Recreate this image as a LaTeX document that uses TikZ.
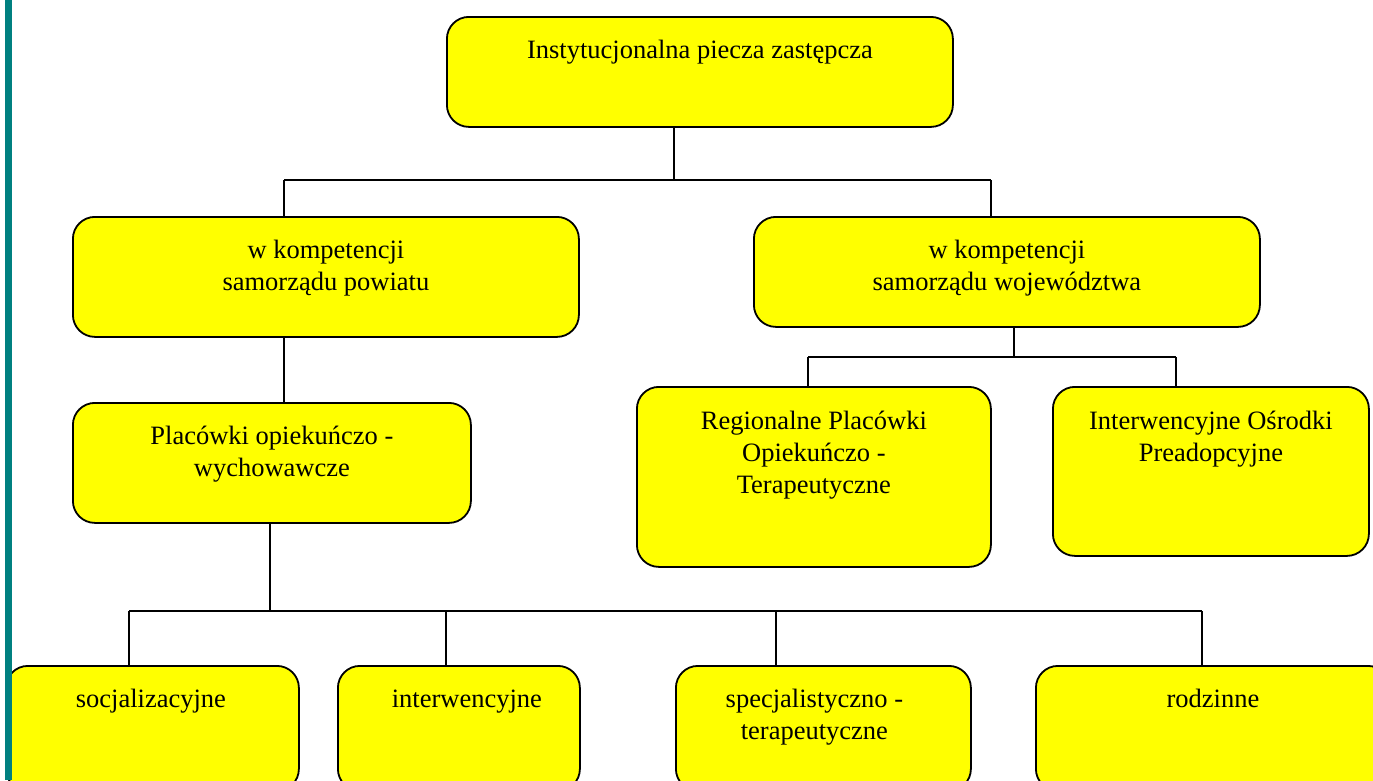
\documentclass[tikz,border=0pt]{standalone}
\usepackage{fontspec}
\setmainfont{Liberation Serif}
\usetikzlibrary{positioning}
\definecolor{zolty}{RGB}{255,255,0}
\definecolor{morski}{RGB}{0,128,128}
\tikzset{
  kafel/.style={draw=black, line width=1.8pt, fill=zolty, rounded corners=22pt, anchor=north west, inner sep=0pt},
  napis/.style={inner sep=0pt, align=center, font=\fontsize{26.5}{32}\selectfont, execute at begin node=\strut},
  linia/.style={line width=1.4pt}
}
\begin{document}
\begin{tikzpicture}[x=1pt,y=-1pt]
\useasboundingbox (0,0) rectangle (1373,780);
\clip (0,0) rectangle (1373,780);
% boxes
\node[kafel, minimum width=506pt, minimum height=110pt] (glowna) at (446,16) {};
\node[kafel, minimum width=506pt, minimum height=120pt] (powiat) at (72,216) {};
\node[kafel, minimum width=506pt, minimum height=110pt] (woj) at (753,216) {};
\node[kafel, minimum width=398pt, minimum height=120pt] (plac) at (72,402) {};
\node[kafel, minimum width=354pt, minimum height=180pt] (region) at (636,386) {};
\node[kafel, minimum width=316pt, minimum height=169pt] (osrodki) at (1052,386) {};
\node[kafel, minimum width=293pt, minimum height=125pt] (soc) at (5,665) {};
\node[kafel, minimum width=242pt, minimum height=125pt] (inter) at (337,665) {};
\node[kafel, minimum width=295pt, minimum height=125pt] (spec) at (675,665) {};
\node[kafel, minimum width=354pt, minimum height=125pt] (rodz) at (1035,665) {};
% texts
\node[napis, below=20pt of glowna.north] (glowna-t) {Instytucjonalna piecza zastępcza};
\node[napis, below=24pt of powiat.north] (powiat-t) {w kompetencji\\samorządu powiatu};
\node[napis, below=24pt of woj.north] (woj-t) {w kompetencji\\samorządu województwa};
\node[napis, below=24pt of plac.north] (plac-t) {Placówki opiekuńczo -\\wychowawcze};
\node[napis, below=25pt of region.north] (region-t) {Regionalne Placówki\\Opiekuńczo -\\Terapeutyczne};
\node[napis, below=25pt of osrodki.north] (osrodki-t) {Interwencyjne Ośrodki\\Preadopcyjne};
\node[napis, below=20pt of soc.north, xshift=-1.5pt] (soc-t) {socjalizacyjne};
\node[napis, below=20pt of inter.north, xshift=8pt] (inter-t) {interwencyjne};
\node[napis, below=24pt of spec.north, xshift=-9pt] (spec-t) {specjalistyczno -\\terapeutyczne};
\node[napis, below=20pt of rodz.north] (rodz-t) {rodzinne};
% connectors
\coordinate (k1) at (674,180);
\coordinate (k2) at (284,180);
\coordinate (k3) at (991,180);
\draw[linia] (glowna.south -| k1) -- (k1);
\draw[linia] (k2) -- (k3);
\draw[linia] (k2) -- (k2 |- powiat.north);
\draw[linia] (k3) -- (k3 |- woj.north);
\draw[linia] (powiat.south -| k2) -- (plac.north -| k2);
\coordinate (k4) at (1014,357);
\coordinate (k5) at (808,357);
\coordinate (k6) at (1176,357);
\draw[linia] (woj.south -| k4) -- (k4);
\draw[linia] (k5) -- (k6);
\draw[linia] (k5) -- (k5 |- region.north);
\draw[linia] (k6) -- (k6 |- osrodki.north);
\coordinate (k7) at (270,611);
\draw[linia] (plac.south -| k7) -- (k7);
\draw[linia] (129,611) -- (1202,611);
\foreach \x/\n in {129/soc, 446/inter, 776/spec, 1202/rodz}{
  \coordinate (d) at (\x,611);
  \draw[linia] (d) -- (d |- \n.north);
}
% teal bar
\fill[morski] (5,0) rectangle (12,780);
\end{tikzpicture}
\end{document}
